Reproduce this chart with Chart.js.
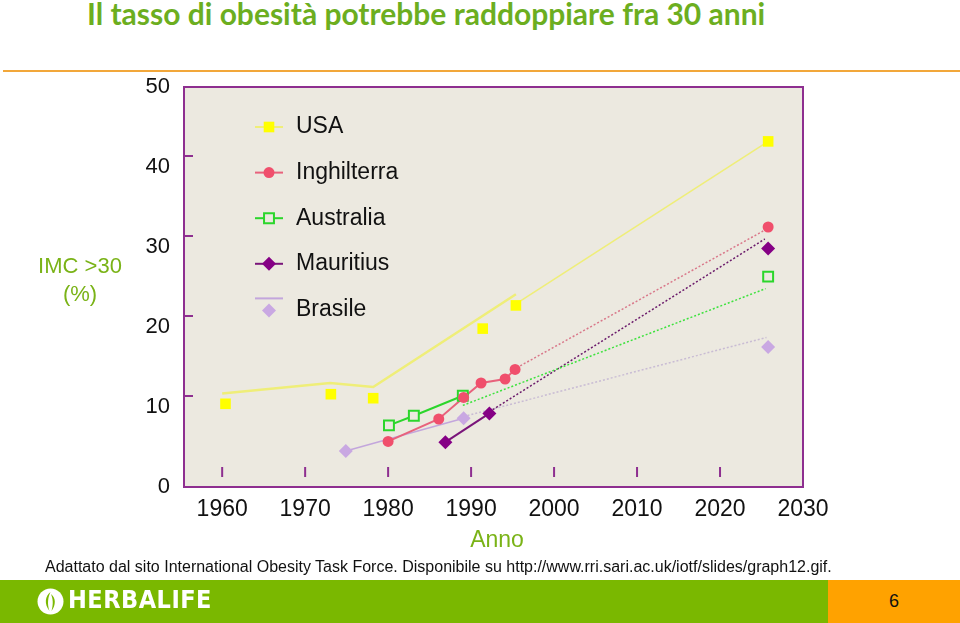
<!DOCTYPE html>
<html>
<head>
<meta charset="utf-8">
<script src="https://cdn.jsdelivr.net/npm/chart.js@4.4.0/dist/chart.umd.min.js"></script>
<style>
  body { margin: 0; width: 960px; height: 623px; position: relative; overflow: hidden; background: #fff; font-family: "Liberation Sans", Arial, sans-serif; }
  #title { position: absolute; left: 87px; top: -5px; font-family: Lato, sans-serif; font-weight: bold; font-size: 30px; color: #6cae1f; white-space: nowrap; }
  #rule { position: absolute; left: 3px; right: 0; top: 70px; height: 2px; background: #f2a73a; }
  canvas { position: absolute; left: 0; top: 0; }
  #ylab { position: absolute; left: 30px; width: 100px; top: 252px; text-align: center; color: #7ab317; font-size: 22px; line-height: 28px; }
  #xlab { position: absolute; left: 447px; width: 100px; top: 526px; text-align: center; color: #7ab317; font-size: 23px; }
  #source { position: absolute; left: 45px; top: 558px; font-size: 16px; color: #111; white-space: nowrap; }
  #footer { position: absolute; left: 0; top: 580px; width: 830px; height: 43px; background: #7ab800; }
  #brand { position: absolute; left: 68px; top: 585px; font-family: "DejaVu Sans Condensed", "DejaVu Sans", sans-serif; font-weight: bold; font-size: 25px; color: #fff; letter-spacing: 0.5px; }
  #logo { position: absolute; left: 37px; top: 588px; }
  #page { position: absolute; left: 828px; top: 580px; width: 132px; height: 43px; background: #ffa200; color: #111; font-size: 18px; line-height: 43px; text-align: center; }
</style>
</head>
<body>
<div id="title">Il tasso di obesità potrebbe raddoppiare fra 30 anni</div>
<div id="rule"></div>
<canvas id="obesityChart" width="960" height="579"></canvas>
<div id="ylab">IMC &gt;30<br>(%)</div>
<div id="xlab">Anno</div>
<div id="source">Adattato dal sito International Obesity Task Force. Disponibile su http://www.rri.sari.ac.uk/iotf/slides/graph12.gif.</div>
<div id="footer"></div>
<svg id="logo" width="27" height="27" viewBox="0 0 27 27">
  <circle cx="13.5" cy="13.5" r="13" fill="#fff"/>
  <path d="M13.5 4 C8 8 7 16 12.5 23 C10 16 11 9 13.5 4 Z" fill="#7ab800"/>
  <path d="M14 6 C19 10 19 17 14.5 23 C16.5 16 16 11 14 6 Z" fill="#7ab800"/>
</svg>
<div id="brand">HERBALIFE</div>
<div id="page">6</div>

<script>
// axis ticks
const xTicks = [1960, 1970, 1980, 1990, 2000, 2010, 2020, 2030];
const yTicks = [0, 10, 20, 30, 40, 50];
const countries = ['USA', 'Inghilterra', 'Australia', 'Mauritius', 'Brasile'];

// USA
const usaYears = [1960.4, 1973.1, 1978.2, 1991.4, 1995.4, 2025.8];
const usaValues = [10.4, 11.6, 11.1, 19.8, 22.7, 43.2];
const usaLineYears = [1960, 1973, 1978.2, 1995.4];
const usaLineValues = [11.7, 13.0, 12.5, 24.1];
const usaProjYears = [1995.4, 2025.2];
const usaProjValues = [22.9, 42.8];

// Inghilterra
const ukYears = [1980, 1986.1, 1989.1, 1991.2, 1994.1, 1995.3, 2025.8];
const ukValues = [5.7, 8.5, 11.2, 13.0, 13.5, 14.7, 32.5];
const ukLineYears = [1980, 1986.1, 1989.1, 1991.2, 1994.1, 1995.3];
const ukLineValues = [5.7, 8.5, 11.2, 13.0, 13.5, 14.7];
const ukProjYears = [1995.5, 2025.2];
const ukProjValues = [14.9, 32.0];

// Australia
const ausYears = [1980.1, 1983.1, 1989.0, 2025.8];
const ausValues = [7.7, 8.9, 11.4, 26.3];
const ausLineYears = [1980.1, 1983.1, 1989.0];
const ausLineValues = [7.7, 8.9, 11.4];
const ausProjYears = [1989.0, 2025.5];
const ausProjValues = [10.2, 24.8];

// Mauritius
const mauYears = [1986.9, 1992.2, 2025.8];
const mauValues = [5.6, 9.2, 29.8];
const mauLineYears = [1986.9, 1992.2];
const mauLineValues = [5.6, 9.2];
const mauProjYears = [1992.2, 2025.4];
const mauProjValues = [9.4, 31.0];

// Brasile
const braYears = [1974.9, 1989.1, 2025.8];
const braValues = [4.5, 8.6, 17.5];
const braLineYears = [1974.9, 1989.1];
const braLineValues = [4.5, 8.6];
const braProjYears = [1989.1, 2025.6];
const braProjValues = [8.8, 18.7];

const plotBg = '#ece9e0';
const frameColor = '#8e2f90';
const font = '"Liberation Sans", Arial, sans-serif';

function pts(xs, ys) {
  return xs.map((x, i) => ({ x: x, y: ys[i] }));
}

// marker styles per country
const markers = [
  { pointStyle: 'rect', radius: 7.5, fill: '#ffff00', stroke: '#ffff00', borderWidth: 0, line: '#efee78' },
  { pointStyle: 'circle', radius: 5.5, fill: '#f04f6c', stroke: '#f04f6c', borderWidth: 0, line: '#e8627c' },
  { pointStyle: 'rect', radius: 7, fill: plotBg, stroke: '#2bd62b', borderWidth: 2, line: '#2bd62b' },
  { pointStyle: 'rectRot', radius: 7, fill: '#850085', stroke: '#850085', borderWidth: 0, line: '#7a157a' },
  { pointStyle: 'rectRot', radius: 7, fill: '#c9a8e2', stroke: '#c9a8e2', borderWidth: 0, line: '#c3a6dc' }
];

function markerSet(i, xs, ys) {
  const m = markers[i];
  return {
    label: countries[i], data: pts(xs, ys), showLine: false, order: 1,
    pointStyle: m.pointStyle, pointRadius: m.radius, pointHoverRadius: m.radius,
    backgroundColor: m.fill, borderColor: m.stroke, borderWidth: m.borderWidth
  };
}

function lineSet(color, xs, ys, width, dash) {
  return {
    data: pts(xs, ys), showLine: true, order: 2, pointRadius: 0, pointHoverRadius: 0,
    borderColor: color, borderWidth: width, borderDash: dash || [], tension: 0
  };
}

const datasets = [
  lineSet(markers[0].line, usaLineYears, usaLineValues, 2.5),
  lineSet(markers[0].line, usaProjYears, usaProjValues, 1.5),
  lineSet(markers[1].line, ukLineYears, ukLineValues, 2),
  lineSet('#d9788a', ukProjYears, ukProjValues, 1.5, [2, 2]),
  lineSet(markers[2].line, ausLineYears, ausLineValues, 2),
  lineSet('#3ee23e', ausProjYears, ausProjValues, 1.5, [2, 2]),
  lineSet(markers[3].line, mauLineYears, mauLineValues, 2),
  lineSet('#6b1b6b', mauProjYears, mauProjValues, 1.5, [2, 2]),
  lineSet(markers[4].line, braLineYears, braLineValues, 1.5),
  lineSet('#c9bcd4', braProjYears, braProjValues, 1.5, [2, 2]),
  markerSet(0, usaYears, usaValues),
  markerSet(1, ukYears, ukValues),
  markerSet(2, ausYears, ausValues),
  markerSet(3, mauYears, mauValues),
  markerSet(4, braYears, braValues)
];

// background, frame, inner tick marks and the legend inside the plot
const framePlugin = {
  id: 'frame',
  beforeDraw(chart) {
    const a = chart.chartArea;
    const ctx = chart.ctx;
    ctx.save();
    ctx.fillStyle = plotBg;
    ctx.fillRect(a.left, a.top, a.right - a.left, a.bottom - a.top);
    ctx.restore();
  },
  afterDraw(chart) {
    const a = chart.chartArea;
    const ctx = chart.ctx;
    const xs = chart.scales.x;
    const ys = chart.scales.y;
    ctx.save();
    ctx.strokeStyle = frameColor;
    ctx.lineWidth = 2;
    ctx.strokeRect(a.left, a.top, a.right - a.left, a.bottom - a.top);
    ctx.beginPath();
    yTicks.slice(1, -1).forEach(v => {
      const y = ys.getPixelForValue(v) - 11;
      ctx.moveTo(a.left, y);
      ctx.lineTo(a.left + 9, y);
    });
    xTicks.slice(0, -1).forEach(v => {
      const x = xs.getPixelForValue(v);
      ctx.moveTo(x, a.bottom - 20);
      ctx.lineTo(x, a.bottom - 10);
    });
    ctx.stroke();

    // legend
    ctx.font = '23px ' + font;
    ctx.textBaseline = 'middle';
    ctx.fillStyle = '#111';
    countries.forEach((name, i) => {
      const m = markers[i];
      const y = a.top + 40 + i * 45.6;
      const lx = a.left + 71;
      const lineY = i === 4 ? y - 11 : y;
      const markY = i === 4 ? y + 1 : y;
      ctx.strokeStyle = m.line;
      ctx.lineWidth = 2;
      ctx.beginPath();
      ctx.moveTo(lx, lineY);
      ctx.lineTo(lx + 28, lineY);
      ctx.stroke();
      ctx.fillStyle = m.fill;
      ctx.strokeStyle = m.stroke;
      ctx.lineWidth = m.borderWidth;
      Chart.helpers.drawPoint(ctx, { pointStyle: m.pointStyle, radius: m.radius, rotation: 0, borderWidth: m.borderWidth }, lx + 14, markY);
      ctx.fillStyle = '#111';
      ctx.fillText(name, a.left + 112, y);
    });
    ctx.restore();
  }
};

new Chart(document.getElementById('obesityChart'), {
  type: 'scatter',
  data: { datasets: datasets },
  options: {
    responsive: false,
    animation: false,
    layout: { padding: { left: 0, top: 87, right: 157, bottom: 52 } },
    plugins: { legend: { display: false }, tooltip: { enabled: false } },
    scales: {
      x: {
        type: 'linear', position: 'bottom', min: 1955.4, max: 2030,
        afterBuildTicks: s => { s.ticks = xTicks.map(v => ({ value: v })); },
        afterFit: s => { s.height = 40; },
        grid: { display: false, drawTicks: false },
        border: { display: false },
        ticks: { callback: v => String(v), maxRotation: 0, autoSkip: false, padding: 9, color: '#111', font: { family: font, size: 23 } }
      },
      y: {
        min: 0, max: 50,
        afterBuildTicks: s => { s.ticks = yTicks.map(v => ({ value: v })); },
        afterFit: s => { s.width = 184; },
        grid: { display: false, drawTicks: false },
        border: { display: false },
        ticks: { padding: 14, color: '#111', font: { family: font, size: 22 } }
      }
    }
  },
  plugins: [framePlugin]
});
</script>
</body>
</html>
